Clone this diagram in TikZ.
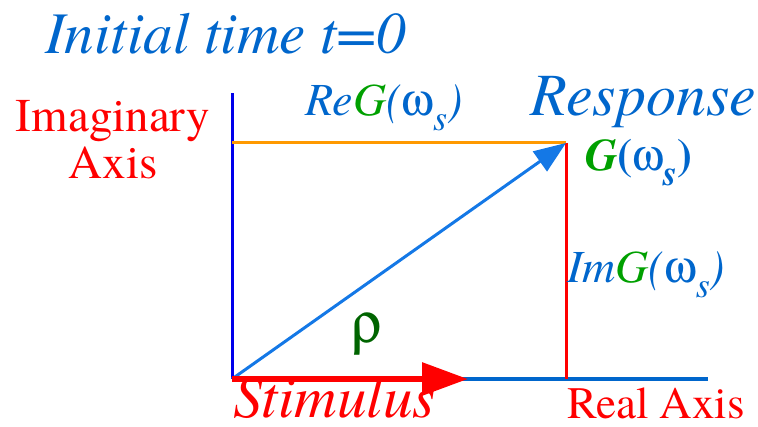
\documentclass[tikz,border=0pt]{standalone}
\usepackage{fontspec}
\setmainfont{texgyretermes}[Extension=.otf, UprightFont=*-regular, ItalicFont=*-italic, BoldFont=*-bold, BoldItalicFont=*-bolditalic]
\usepackage[Symbol]{upgreek}
\usetikzlibrary{arrows.meta}
\definecolor{tblue}{RGB}{0,102,204}
\definecolor{ablue}{RGB}{20,120,230}
\definecolor{dblue}{RGB}{0,0,235}
\definecolor{orng}{RGB}{255,153,0}
\definecolor{ggreen}{RGB}{0,160,0}
\definecolor{dgreen}{RGB}{0,100,0}
\tikzset{
  lbl/.style={inner sep=0pt, anchor=base west},
}
\newcommand{\omsub}[1]{(\ensuremath{\upomega}\raisebox{-0.32em}{\fontsize{#1}{#1}\selectfont\itshape s})}
\begin{document}
\begin{tikzpicture}[x=1pt,y=-1pt]
\useasboundingbox (0,0) rectangle (758,427);
\coordinate (O) at (232,379);
\coordinate (Ytop) at (232,93);
\coordinate (Xend) at (708,379);
\coordinate (R) at (232,143);
\coordinate (P) at (566,143);
\coordinate (Q) at (566,379);
\coordinate (S) at (468,379);
% axes and box
\draw[tblue, line width=3.5pt] (O) -- (Xend);
\draw[dblue, line width=3pt] (O) -- (Ytop);
\draw[orng, line width=3pt] (R) -- (P);
\draw[red, line width=3pt] (P) -- (Q);
% response vector
\draw[ablue, line width=3pt, -{Triangle[length=32pt,width=24pt]}] (O) -- (P);
% stimulus vector
\draw[red, line width=6pt, -{Triangle[length=46pt,width=32pt]}] (O) -- (S);
% texts
\node[lbl, tblue, font=\fontsize{59}{59}\selectfont\itshape] (title) at (45,54) {Initial time t=0};
\node[lbl, tblue, font=\fontsize{60}{60}\selectfont\itshape] (resp) at (530,116) {Response};
\node[inner sep=0pt, red, align=center, font=\fontsize{47}{47}\selectfont] (imag) at (113,140) {Imaginary\\Axis};
\node[lbl, tblue, font=\fontsize{46}{46}\selectfont\itshape] (reg) at (305,116) {Re\textcolor{ggreen}{G}\omsub{36}};
\node[lbl, tblue, font=\fontsize{45}{45}\selectfont\bfseries] (g) at (585,171) {\textcolor{ggreen}{\itshape G}\omsub{36}};
\node[lbl, tblue, font=\fontsize{46}{46}\selectfont\itshape] (img) at (567,283) {Im\textcolor{ggreen}{G}\omsub{36}};
\node[lbl, dgreen, font=\fontsize{58}{58}\selectfont] (rho) at (351,343) {$\uprho$};
\node[lbl, red, font=\fontsize{59}{59}\selectfont\itshape] (stim) at (233,418) {Stimulus};
\node[lbl, red, font=\fontsize{45}{45}\selectfont] (real) at (567,419) {Real Axis};
\end{tikzpicture}
\end{document}
